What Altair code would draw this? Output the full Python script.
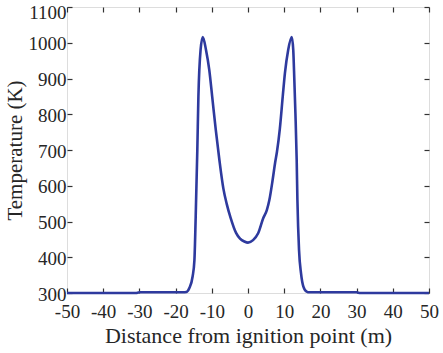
import altair as alt
import pandas as pd

# Data
distance = [-50, -31, -30, -18, -17, -16.2, -15.3, -14.8, -14.45, -14.0, -13.7, -13.1,
            -12.5, -11.6, -10.7, -9.9, -8.9, -7.9, -6.8, -5.9, -4.8, -3.3, -2.2, -1.0,
            0.0, 1.4, 2.8, 4.2, 5.2, 5.9, 6.8, 7.5, 8.0, 8.8, 9.6, 10.2, 11.1, 12.1,
            12.5, 12.8, 13.1, 13.45, 13.65, 14.1, 14.65, 15.3, 16.2, 17, 30, 31, 50]
temperature = [300, 300, 302, 302, 303, 314, 346, 392, 513, 700, 850, 980,
               1016, 980, 924, 850, 756, 672, 592, 550, 510, 468, 452, 444,
               441, 448, 467, 509, 532, 560, 616, 665, 695, 760, 850, 915, 980, 1016,
               980, 896, 803, 672, 560, 420, 355, 318, 304, 302, 302, 300, 300]
x_ticks = [-50, -40, -30, -20, -10, 0, 10, 20, 30, 40, 50]
y_ticks = [300, 400, 500, 600, 700, 800, 900, 1000, 1100]

df = pd.DataFrame({"x": distance, "T": temperature})

W, H = 362, 286
FONT = "Liberation Serif"
TXT = "#262626"
LINE = "#2e3a9e"

xs = alt.Scale(domain=[-50, 50], nice=False, zero=False)
ys = alt.Scale(domain=[300, 1100], nice=False, zero=False)

base = alt.Chart(df)

main = base.mark_line(color=LINE, strokeWidth=2.6, interpolate="monotone").encode(
    x=alt.X("x:Q", scale=xs, axis=alt.Axis(
        orient="bottom", values=x_ticks, ticks=False, tickSize=0, domain=False,
        labelExpr="'' + datum.value", labelOverlap=False, labelBound=False,
        labelFlush=False,
        labelPadding=9, labelFontSize=19, labelFont=FONT, labelColor=TXT,
        title="Distance from ignition point (m)", titleFont=FONT, titleFontSize=22,
        titleFontWeight="normal", titleColor=TXT, titlePadding=4, grid=False)),
    y=alt.Y("T:Q", scale=ys, axis=alt.Axis(
        orient="left", values=y_ticks, ticks=False, tickSize=0, domain=False,
        labelExpr="'' + datum.value", labelOverlap=False, labelBound=False,
        labelFlush=False,
        labelOffset={"condition": {"test": "datum.value == 1100", "value": 5}, "value": 1},
        labelPadding=1, labelFontSize=19, labelFont=FONT, labelColor=TXT,
        title="Temperature (K)", titleFont=FONT, titleFontSize=21,
        titleFontWeight="normal", titleColor=TXT, titlePadding=3, grid=False)),
)

tick_axis = dict(labels=False, ticks=True, tickSize=5, tickColor="#333",
                 tickWidth=1.2, domain=False, grid=False, title=None)

ticks_a = base.mark_line(opacity=0).encode(
    x=alt.X("x:Q", scale=xs, axis=alt.Axis(orient="top", offset=-H, values=x_ticks, **tick_axis)),
    y=alt.Y("T:Q", scale=ys, axis=alt.Axis(orient="right", offset=-W, values=y_ticks, **tick_axis)),
)
ticks_b = base.mark_line(opacity=0).encode(
    x=alt.X("x:Q", scale=xs, axis=alt.Axis(orient="bottom", offset=-H, values=x_ticks, **tick_axis)),
    y=alt.Y("T:Q", scale=ys, axis=alt.Axis(orient="left", offset=-W, values=y_ticks, **tick_axis)),
)

chart = alt.layer(main, ticks_a, ticks_b).resolve_axis(
    x="independent", y="independent"
).properties(
    width=W, height=H,
    autosize=alt.AutoSizeParams(type="none"),
    padding={"left": 67, "top": 7, "right": 14, "bottom": 60},
).configure_view(
    stroke="#333", strokeWidth=1.5
).configure(background="white")

chart.save("out.html", embed_options={"renderer": "svg", "actions": False})
